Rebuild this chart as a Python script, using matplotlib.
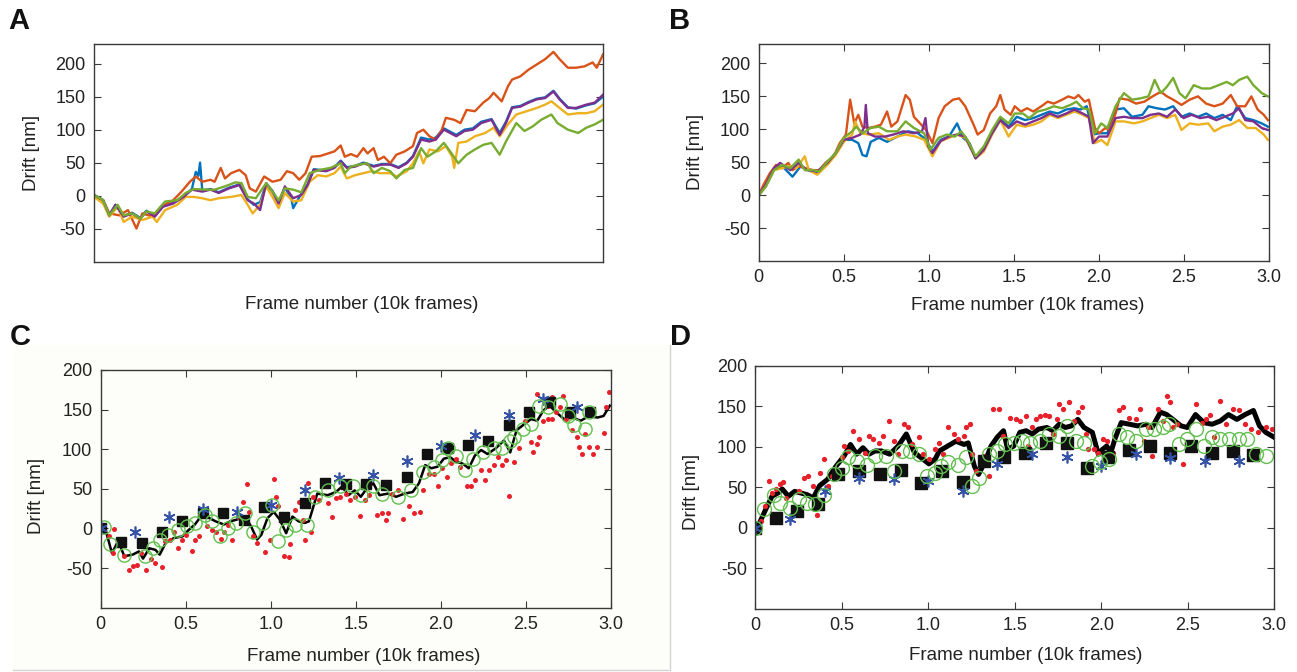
import matplotlib
matplotlib.use("Agg")
import matplotlib.pyplot as plt
from matplotlib.patches import Rectangle

plt.rcParams['font.family'] = ['Liberation Sans', 'DejaVu Sans']

# MATLAB default line colours
C_BLUE = '#0072BD'
C_RED = '#D95319'
C_YEL = '#EDB120'
C_PUR = '#7E2F8E'
C_GRN = '#77AC30'

# ---------------- panel A ----------------
a_red_x = [0.00, 0.054, 0.09, 0.15, 0.20, 0.25, 0.285, 0.346, 0.394, 0.467, 0.516, 0.565, 0.60, 0.638, 0.687,
           0.711, 0.747, 0.772, 0.808, 0.857, 0.894, 0.918, 0.954, 1.003, 1.052, 1.10, 1.137, 1.174, 1.21, 1.247,
           1.283, 1.332, 1.38, 1.417, 1.454, 1.478, 1.514, 1.551, 1.588, 1.612, 1.648, 1.673, 1.709, 1.746, 1.782,
           1.831, 1.88, 1.904, 1.941, 1.977, 2.014, 2.05, 2.074, 2.123, 2.16, 2.196, 2.245, 2.294, 2.33, 2.355,
           2.403, 2.44, 2.464, 2.513, 2.561, 2.61, 2.659, 2.708, 2.744, 2.793, 2.841, 2.89, 2.939, 2.963, 3.0]
a_red_y = [0, -7, -27, -30, -22, -50, -27, -32, -17, -7, 6, 21, 29, 21, 24,
           21, 42, 26, 34, 39, 31, 11, 6, 29, 21, 24, 37, 34, 24, 34,
           59, 60, 64, 67, 76, 59, 63, 59, 72, 64, 72, 54, 59, 49, 62,
           67, 75, 95, 100, 90, 85, 100, 118, 115, 110, 130, 128, 141, 148, 156,
           143, 166, 176, 181, 191, 199, 207, 218, 207, 194, 194, 196, 202, 194, 214]

a_pur_x = [0, 0.054, 0.09, 0.127, 0.175, 0.224, 0.273, 0.309, 0.358, 0.406, 0.467, 0.528, 0.577, 0.638, 0.687,
           0.735, 0.796, 0.857, 0.906, 0.942, 0.979, 1.015, 1.052, 1.088, 1.125, 1.174, 1.222, 1.259, 1.295, 1.368,
           1.417, 1.454, 1.49, 1.539, 1.588, 1.649, 1.697, 1.746, 1.795, 1.843, 1.88, 1.928, 1.977, 2.014, 2.062,
           2.099, 2.135, 2.184, 2.233, 2.282, 2.343, 2.391, 2.428, 2.464, 2.513, 2.561, 2.61, 2.659, 2.708, 2.744,
           2.793, 2.841, 2.902, 2.951, 3.0]
a_pur_y = [1, -7, -30, -14, -32, -27, -35, -24, -32, -17, -12, -2, 9, 6, 9,
           4, 11, 16, -7, -12, -22, 19, 6, -12, 14, -4, 1, 16, 39, 37,
           42, 52, 42, 44, 49, 44, 47, 47, 42, 49, 59, 85, 82, 85, 100,
           95, 90, 98, 100, 110, 115, 92, 110, 133, 135, 141, 146, 148, 158, 146,
           133, 133, 138, 141, 153]

a_blu_x = [0, 0.054, 0.09, 0.127, 0.175, 0.224, 0.273, 0.309, 0.358, 0.406, 0.467, 0.528, 0.577, 0.60, 0.615,
           0.625, 0.638, 0.687, 0.735, 0.796, 0.857, 0.906, 0.942, 0.979, 1.015, 1.052, 1.088, 1.125, 1.162, 1.174,
           1.222, 1.259, 1.295, 1.368, 1.417, 1.454, 1.49, 1.539, 1.588, 1.649, 1.697, 1.746, 1.795, 1.843, 1.88,
           1.928, 1.977, 2.014, 2.062, 2.099, 2.135, 2.184, 2.233, 2.282, 2.343, 2.391, 2.428, 2.464, 2.513, 2.561,
           2.61, 2.659, 2.708, 2.744, 2.793, 2.841, 2.902, 2.951, 3.0]
a_blu_y = [1, -7, -29, -14, -31, -26, -34, -23, -31, -16, -11, -1, 10, 36, 30,
           50, 8, 10, 5, 12, 17, -6, -14, -10, 18, 7, -10, 12, -3, -19,
           3, 17, 40, 38, 43, 53, 43, 45, 50, 45, 48, 48, 43, 50, 60,
           88, 85, 88, 102, 97, 92, 100, 102, 112, 116, 95, 112, 134, 136, 142,
           147, 149, 159, 147, 134, 132, 137, 140, 150]

a_yel_x = [0, 0.054, 0.09, 0.139, 0.175, 0.224, 0.285, 0.346, 0.370, 0.419, 0.491, 0.540, 0.589, 0.638, 0.687,
           0.735, 0.808, 0.869, 0.906, 0.935, 0.979, 1.015, 1.052, 1.088, 1.125, 1.174, 1.222, 1.271, 1.32, 1.368,
           1.417, 1.454, 1.49, 1.539, 1.588, 1.636, 1.685, 1.746, 1.782, 1.843, 1.88, 1.916, 1.941, 1.977, 2.026,
           2.074, 2.111, 2.123, 2.147, 2.196, 2.245, 2.306, 2.355, 2.391, 2.44, 2.489, 2.55, 2.61, 2.659, 2.696,
           2.744, 2.793, 2.854, 2.902, 2.951, 3.0]
a_yel_y = [-2, -12, -32, -17, -40, -32, -37, -32, -40, -22, -14, -2, -2, -4, -7,
           -4, -2, 1, -14, -27, -14, 14, -2, -19, 4, -9, -7, 21, 31, 29,
           34, 44, 26, 31, 34, 37, 34, 34, 29, 37, 49, 67, 49, 70, 67,
           75, 59, 42, 80, 82, 90, 95, 103, 90, 108, 123, 128, 133, 138, 143,
           133, 123, 125, 125, 128, 138]

a_grn_x = [0, 0.054, 0.09, 0.139, 0.175, 0.224, 0.273, 0.309, 0.358, 0.419, 0.491, 0.540, 0.589, 0.662, 0.711,
           0.772, 0.833, 0.869, 0.906, 0.954, 1.015, 1.052, 1.088, 1.125, 1.174, 1.222, 1.271, 1.332, 1.393, 1.454,
           1.478, 1.514, 1.563, 1.612, 1.648, 1.697, 1.746, 1.782, 1.831, 1.88, 1.928, 1.965, 2.014, 2.062, 2.099,
           2.147, 2.196, 2.245, 2.294, 2.343, 2.391, 2.428, 2.489, 2.537, 2.586, 2.635, 2.696, 2.732, 2.793, 2.854,
           2.902, 2.951, 3.0]
a_grn_y = [1, -7, -30, -14, -30, -27, -35, -24, -27, -9, -7, 4, 10, 9, 9,
           14, 20, 19, -2, -4, 19, 6, -7, 11, 9, 5, 34, 39, 42, 49,
           34, 44, 47, 49, 34, 42, 37, 26, 39, 42, 72, 59, 67, 80, 67,
           49, 62, 70, 77, 80, 62, 82, 110, 98, 105, 115, 123, 110, 100, 95,
           103, 108, 115]

# ---------------- panel B ----------------
b_red_x = [0, 0.029, 0.065, 0.102, 0.138, 0.174, 0.199, 0.235, 0.271, 0.320, 0.356, 0.392, 0.441, 0.477, 0.513,
           0.538, 0.562, 0.586, 0.610, 0.646, 0.683, 0.719, 0.755, 0.780, 0.816, 0.840, 0.864, 0.889, 0.913, 0.949,
           0.985, 1.022, 1.058, 1.094, 1.143, 1.179, 1.215, 1.264, 1.288, 1.324, 1.361, 1.397, 1.421, 1.446, 1.482,
           1.506, 1.542, 1.579, 1.615, 1.663, 1.700, 1.736, 1.785, 1.821, 1.857, 1.881, 1.918, 1.942, 1.978, 2.002,
           2.039, 2.063, 2.099, 2.123, 2.172, 2.22, 2.269, 2.317, 2.365, 2.402, 2.438, 2.487, 2.535, 2.584, 2.632,
           2.68, 2.729, 2.777, 2.814, 2.862, 2.898, 2.935, 2.971, 2.995]
b_red_y = [0, 16, 33, 46, 41, 49, 38, 44, 41, 38, 38, 49, 59, 79, 92,
           145, 109, 122, 104, 102, 104, 107, 127, 104, 112, 132, 152, 145, 119, 109,
           99, 79, 117, 135, 145, 147, 135, 107, 92, 99, 124, 135, 152, 130, 122,
           135, 127, 132, 127, 135, 142, 139, 145, 150, 147, 152, 142, 145, 102, 94,
           102, 99, 124, 147, 145, 139, 142, 150, 157, 150, 145, 137, 145, 150, 139,
           135, 139, 152, 135, 135, 150, 130, 122, 114]

b_grn_x = [0, 0.041, 0.090, 0.138, 0.186, 0.235, 0.271, 0.320, 0.356, 0.404, 0.453, 0.501, 0.550, 0.574, 0.610,
           0.659, 0.707, 0.755, 0.816, 0.864, 0.913, 0.973, 1.010, 1.058, 1.106, 1.155, 1.191, 1.228, 1.276, 1.324,
           1.373, 1.421, 1.470, 1.506, 1.554, 1.591, 1.639, 1.688, 1.736, 1.785, 1.833, 1.869, 1.906, 1.942, 1.978,
           2.015, 2.051, 2.099, 2.148, 2.196, 2.245, 2.293, 2.329, 2.366, 2.402, 2.438, 2.475, 2.511, 2.559, 2.608,
           2.656, 2.705, 2.753, 2.789, 2.826, 2.874, 2.910, 2.959, 2.995]
b_grn_y = [0, 13, 38, 46, 41, 54, 38, 38, 36, 51, 64, 87, 97, 104, 94,
           102, 104, 97, 97, 112, 102, 94, 69, 87, 92, 89, 97, 84, 59, 74,
           99, 119, 109, 124, 124, 117, 127, 130, 135, 132, 137, 142, 132, 130, 94,
           109, 102, 135, 155, 145, 147, 150, 175, 155, 165, 178, 155, 147, 167, 162,
           162, 167, 172, 167, 175, 180, 167, 155, 150]

b_blu_x = [0, 0.041, 0.090, 0.138, 0.199, 0.247, 0.296, 0.344, 0.404, 0.453, 0.501, 0.550, 0.586, 0.610, 0.634,
           0.659, 0.707, 0.755, 0.816, 0.877, 0.937, 0.985, 1.022, 1.070, 1.119, 1.167, 1.203, 1.240, 1.276, 1.324,
           1.373, 1.421, 1.470, 1.518, 1.567, 1.615, 1.663, 1.712, 1.760, 1.809, 1.857, 1.893, 1.930, 1.966, 2.002,
           2.051, 2.099, 2.148, 2.196, 2.257, 2.293, 2.341, 2.390, 2.438, 2.487, 2.535, 2.584, 2.632, 2.680, 2.729,
           2.777, 2.814, 2.862, 2.910, 2.959, 2.995]
b_blu_y = [0, 13, 38, 44, 28, 44, 38, 33, 49, 64, 84, 84, 79, 61, 59,
           81, 87, 81, 89, 97, 94, 84, 66, 84, 89, 109, 87, 79, 56, 69,
           94, 116, 104, 119, 114, 117, 122, 127, 124, 130, 132, 130, 135, 92, 94,
           94, 130, 132, 119, 122, 135, 132, 130, 135, 119, 124, 119, 124, 117, 122,
           114, 135, 117, 114, 109, 104]

b_pur_x = [0, 0.041, 0.090, 0.126, 0.186, 0.235, 0.283, 0.344, 0.404, 0.453, 0.501, 0.550, 0.598, 0.622, 0.630,
           0.642, 0.683, 0.743, 0.792, 0.852, 0.913, 0.961, 0.981, 0.998, 1.022, 1.070, 1.119, 1.167, 1.215, 1.276,
           1.324, 1.373, 1.421, 1.470, 1.518, 1.567, 1.615, 1.663, 1.712, 1.760, 1.809, 1.857, 1.906, 1.942, 1.966,
           2.002, 2.051, 2.099, 2.148, 2.196, 2.257, 2.305, 2.354, 2.402, 2.450, 2.499, 2.547, 2.596, 2.644, 2.692,
           2.741, 2.789, 2.826, 2.862, 2.910, 2.959, 2.995]
b_pur_y = [0, 16, 41, 49, 38, 49, 38, 36, 49, 64, 84, 87, 92, 104, 137,
           94, 89, 89, 92, 97, 94, 97, 117, 74, 64, 82, 89, 92, 89, 56,
           69, 94, 114, 102, 112, 107, 112, 117, 124, 119, 124, 130, 124, 119, 79,
           89, 89, 117, 119, 117, 117, 122, 124, 119, 130, 117, 122, 117, 119, 114,
           119, 124, 132, 114, 112, 102, 99]

b_yel_x = [0, 0.041, 0.090, 0.138, 0.186, 0.223, 0.271, 0.295, 0.344, 0.404, 0.453, 0.501, 0.550, 0.567, 0.598,
           0.646, 0.707, 0.768, 0.816, 0.864, 0.925, 0.973, 1.022, 1.070, 1.119, 1.167, 1.215, 1.276, 1.324, 1.373,
           1.421, 1.470, 1.518, 1.567, 1.615, 1.663, 1.712, 1.760, 1.809, 1.857, 1.906, 1.942, 1.978, 2.015, 2.051,
           2.099, 2.148, 2.208, 2.257, 2.305, 2.354, 2.402, 2.450, 2.487, 2.535, 2.584, 2.644, 2.680, 2.729, 2.777,
           2.826, 2.874, 2.923, 2.971, 2.995]
b_yel_y = [0, 13, 38, 41, 44, 41, 59, 38, 31, 46, 61, 81, 92, 112, 94,
           92, 94, 84, 89, 92, 89, 84, 59, 82, 87, 92, 87, 56, 66, 92,
           114, 89, 107, 104, 107, 112, 122, 117, 122, 127, 122, 117, 79, 84, 76,
           112, 112, 109, 112, 117, 122, 117, 122, 99, 109, 107, 109, 97, 104, 107,
           114, 102, 102, 92, 84]

# ---------------- panel C ----------------
c_line_x = [0, 0.029, 0.066, 0.103, 0.139, 0.188, 0.225, 0.249, 0.286, 0.322, 0.347, 0.383, 0.432, 0.481, 0.517,
            0.554, 0.603, 0.64, 0.676, 0.725, 0.762, 0.798, 0.847, 0.884, 0.92, 0.945, 0.981, 1.018, 1.054, 1.091,
            1.128, 1.164, 1.201, 1.225, 1.274, 1.335, 1.384, 1.42, 1.457, 1.494, 1.53, 1.567, 1.604, 1.64, 1.689,
            1.738, 1.787, 1.835, 1.872, 1.909, 1.945, 1.982, 2.018, 2.055, 2.092, 2.128, 2.165, 2.201, 2.238, 2.275,
            2.323, 2.372, 2.409, 2.446, 2.482, 2.531, 2.568, 2.604, 2.641, 2.677, 2.726, 2.775, 2.824, 2.873, 2.922,
            2.958, 2.995]
c_line_y = [0, -2, -31, -16, -35, -33, -29, -38, -25, -27, -33, -18, -12, -10, -2,
            5, 19, 13, 9, 5, 9, 11, 15, 3, -14, -8, 13, 21, 11, -6,
            15, 9, 7, 9, 44, 42, 46, 53, 42, 48, 40, 51, 57, 42, 44,
            40, 44, 46, 57, 80, 76, 78, 88, 90, 84, 82, 76, 92, 99, 94,
            101, 111, 96, 124, 130, 138, 136, 149, 155, 147, 138, 140, 136, 142, 140,
            142, 155]

sq_x = [0, 0.12, 0.24, 0.36, 0.48, 0.60, 0.72, 0.84, 0.96, 1.08, 1.20, 1.32, 1.44,
        1.56, 1.68, 1.80, 1.92, 2.04, 2.16, 2.28, 2.40, 2.52, 2.64, 2.76, 2.88]
c_sq_y = [1, -17, -18, -5, 10, 20, 20, 11, 27, 15, 32, 58, 56, 56, 55, 65, 94, 101, 105, 110, 131, 147, 160, 147, 147]

star_x = [0, 0.2, 0.4, 0.6, 0.8, 1.0, 1.2, 1.4, 1.6, 1.8, 2.0, 2.2, 2.4, 2.6, 2.8]
c_star_y = [1, -5, 15, 25, 21, 30, 48, 64, 68, 85, 104, 118, 143, 164, 153]

c_circ_x = [0.017, 0.054, 0.139, 0.261, 0.31, 0.347, 0.395, 0.456, 0.505, 0.554, 0.615, 0.652, 0.7, 0.749, 0.798,
            0.847, 0.896, 0.957, 1.006, 1.042, 1.091, 1.14, 1.213, 1.262, 1.335, 1.408, 1.482, 1.53, 1.604, 1.652,
            1.75, 1.823, 1.897, 1.958, 2.006, 2.043, 2.092, 2.141, 2.189, 2.25, 2.311, 2.36, 2.409, 2.433, 2.482,
            2.531, 2.58, 2.629, 2.702, 2.751, 2.787, 2.848, 2.873]
c_circ_y = [2, -20, -33, -35, -25, -14, -8, -2, 3, 7, 17, 9, -10, 0, 7,
            19, -4, 7, 30, -16, -2, 5, 5, 40, 48, 53, 53, 42, 53, 44,
            40, 48, 71, 78, 86, 101, 92, 74, 88, 96, 101, 101, 111, 115, 126,
            132, 155, 153, 157, 142, 130, 126, 147]

c_dot_x = [0.078, 0.046, 0.071, 0.107, 0.139, 0.164, 0.188, 0.212, 0.237, 0.266, 0.293, 0.322, 0.359, 0.378, 0.408,
           0.432, 0.456, 0.481, 0.5, 0.535, 0.554, 0.578, 0.627, 0.652, 0.676, 0.705, 0.725, 0.749, 0.774, 0.81,
           0.835, 0.859, 0.871, 0.896, 0.92, 0.969, 0.993, 1.018, 1.03, 1.042, 1.079, 1.108, 1.115, 1.14, 1.164,
           1.189, 1.201, 1.218, 1.237, 1.25, 1.286, 1.335, 1.36, 1.384, 1.408, 1.445, 1.469, 1.494, 1.526, 1.555,
           1.579, 1.628, 1.652, 1.677, 1.689, 1.713, 1.75, 1.779, 1.811, 1.84, 1.879, 1.896, 1.933, 1.958, 1.982,
           2.006, 2.038, 2.063, 2.092, 2.116, 2.153, 2.177, 2.201, 2.238, 2.263, 2.287, 2.311, 2.336, 2.36, 2.385,
           2.402, 2.433, 2.458, 2.494, 2.531, 2.543, 2.568, 2.58, 2.604, 2.629, 2.653, 2.677, 2.702, 2.721, 2.738,
           2.775, 2.8, 2.812, 2.829, 2.848, 2.873, 2.897, 2.922, 2.958, 2.975, 2.99, 2.565, 2.653, 2.634]
c_dot_y = [-1, -10, -31, -14, -35, -52, -48, -46, -31, -53, -39, -43, -49, -16, -14,
           -4, -25, -14, -8, -29, -14, -10, 3, -2, -4, -13, -4, 5, -15, 15,
           34, 56, 21, -10, -18, -30, -14, 62, 40, 28, -35, -36, -20, 23, 34,
           11, -14, 58, -4, 40, 36, 32, 15, 38, 40, 44, 36, 40, 16, 36,
           42, 17, 19, 11, 19, 44, 48, 12, 28, 20, 21, 48, 69, 69, 53,
           76, 65, 82, 88, 78, 53, 53, 61, 74, 61, 74, 80, 90, 80, 86,
           41, 84, 101, 136, 109, 97, 107, 115, 136, 138, 138, 147, 153, 167, 138,
           124, 115, 103, 94, 119, 103, 94, 103, 120, 153, 172, 170, 166, 155]

# ---------------- panel D ----------------
d_line_x = [0, 0.024, 0.06, 0.096, 0.131, 0.155, 0.191, 0.227, 0.263, 0.299, 0.335, 0.371, 0.418, 0.466, 0.514,
            0.55, 0.586, 0.622, 0.657, 0.693, 0.729, 0.777, 0.825, 0.873, 0.92, 0.968, 1.004, 1.04, 1.064, 1.112,
            1.16, 1.207, 1.231, 1.267, 1.291, 1.327, 1.363, 1.399, 1.435, 1.459, 1.494, 1.53, 1.566, 1.602, 1.638,
            1.686, 1.721, 1.757, 1.793, 1.829, 1.865, 1.901, 1.949, 1.984, 2.008, 2.032, 2.056, 2.08, 2.116, 2.164,
            2.211, 2.259, 2.295, 2.343, 2.379, 2.415, 2.462, 2.498, 2.546, 2.594, 2.642, 2.689, 2.737, 2.785, 2.833,
            2.881, 2.916, 2.952, 3.0]
d_line_y = [0, 6, 23, 39, 43, 48, 39, 45, 43, 41, 37, 52, 60, 76, 89,
            103, 91, 99, 91, 95, 95, 91, 101, 116, 93, 85, 79, 85, 95, 101,
            107, 103, 105, 76, 66, 81, 101, 112, 120, 97, 101, 118, 120, 116, 122,
            124, 120, 128, 124, 126, 134, 124, 118, 91, 97, 101, 93, 110, 130, 128,
            126, 128, 124, 143, 140, 134, 126, 124, 140, 130, 128, 132, 140, 134, 140,
            145, 126, 118, 112]

d_sq_y = [0, 12, 21, 29, 66, 70, 67, 72, 55, 70, 57, 82, 87, 93, 105, 105, 74, 87, 96, 101, 92, 101, 93, 95, 90]
d_star_y = [0, 11, 45, 61, 60, 58, 45, 79, 91, 87, 77, 91, 86, 82, 82]

d_circ_x = [0, 0.048, 0.108, 0.143, 0.203, 0.251, 0.299, 0.347, 0.394, 0.454, 0.502, 0.538, 0.586, 0.645, 0.693,
            0.753, 0.801, 0.849, 0.896, 0.944, 0.992, 1.04, 1.076, 1.112, 1.171, 1.219, 1.255, 1.291, 1.351, 1.399,
            1.446, 1.494, 1.542, 1.59, 1.649, 1.697, 1.757, 1.805, 1.853, 1.901, 1.948, 1.996, 2.044, 2.104, 2.152,
            2.199, 2.259, 2.307, 2.355, 2.391, 2.45, 2.498, 2.546, 2.594, 2.642, 2.689, 2.737, 2.797, 2.845, 2.893,
            2.952]
d_circ_y = [0, 23, 41, 31, 25, 35, 31, 29, 41, 66, 74, 87, 83, 78, 89,
            89, 70, 95, 95, 91, 64, 68, 76, 81, 78, 87, 52, 62, 91, 95,
            103, 105, 107, 105, 107, 116, 114, 126, 107, 105, 76, 81, 85, 116, 112,
            107, 122, 122, 124, 128, 103, 110, 122, 101, 112, 110, 110, 110, 110, 91,
            89]

d_dot_x = [0, 0.012, 0.031, 0.055, 0.079, 0.096, 0.12, 0.143, 0.16, 0.179, 0.215, 0.251, 0.28, 0.304, 0.335,
           0.359, 0.371, 0.394, 0.418, 0.442, 0.471, 0.502, 0.514, 0.538, 0.562, 0.598, 0.634, 0.657, 0.681, 0.717,
           0.741, 0.772, 0.801, 0.825, 0.861, 0.885, 0.908, 0.944, 0.968, 1.004, 1.04, 1.064, 1.088, 1.116, 1.147,
           1.171, 1.207, 1.219, 1.243, 1.255, 1.279, 1.315, 1.351, 1.375, 1.41, 1.434, 1.47, 1.506, 1.53, 1.566,
           1.578, 1.602, 1.626, 1.649, 1.673, 1.697, 1.721, 1.745, 1.757, 1.781, 1.817, 1.841, 1.865, 1.889, 1.913,
           1.924, 1.96, 1.984, 2.008, 2.032, 2.068, 2.104, 2.128, 2.164, 2.199, 2.223, 2.247, 2.271, 2.295, 2.331,
           2.355, 2.379, 2.398, 2.415, 2.438, 2.474, 2.51, 2.546, 2.582, 2.606, 2.63, 2.654, 2.689, 2.725, 2.761,
           2.797, 2.833, 2.869, 2.905, 2.952, 2.988]
d_dot_y = [2, -2, 8, 27, 58, 43, 48, 54, 57, 37, 23, 45, 61, 64, 52,
           16, 68, 85, 52, 64, 70, 87, 101, 95, 120, 110, 93, 114, 110, 105,
           114, 132, 107, 91, 128, 124, 103, 112, 91, 85, 97, 105, 91, 125, 116,
           110, 114, 124, 128, 91, 70, 89, 64, 147, 147, 114, 136, 134, 132, 138,
           101, 124, 134, 138, 140, 138, 116, 134, 153, 147, 155, 132, 143, 149, 116,
           97, 97, 93, 110, 107, 93, 145, 149, 136, 134, 147, 107, 124, 89, 147,
           132, 163, 155, 124, 128, 79, 103, 153, 130, 134, 140, 112, 157, 128, 147,
           145, 128, 122, 118, 124, 122]

x_ticks = [0, 0.5, 1.0, 1.5, 2.0, 2.5, 3.0]
x_tick_labels = ['0', '0.5', '1.0', '1.5', '2.0', '2.5', '3.0']
y_ticks = [-50, 0, 50, 100, 150, 200]
y_tick_labels = ['-50', '0', '50', '100', '150', '200']

W, H = 1297, 672
fig = plt.figure(figsize=(W / 100, H / 100), dpi=100)
fig.patch.set_facecolor('white')

CREAM = '#fdfdf9'
# panel C sits on a slightly tinted background in the original figure
bg = fig.add_axes([0, 0, 1, 1], zorder=-10)
bg.set_xlim(0, W)
bg.set_ylim(H, 0)
bg.axis('off')
bg.add_patch(Rectangle((13, 345), 657, 325, facecolor=CREAM, edgecolor='none'))
bg.plot([13, 670, 670], [670, 670, 345], color='#d4d4d4', lw=1.0)


def make_axes(rect, xticks_on=True, face='white'):
    ax = fig.add_axes(rect)
    ax.set_facecolor(face)
    ax.set_xlim(0, 3.0)
    for s in ax.spines.values():
        s.set_color('#3a3a3a')
        s.set_linewidth(1.0)
    ax.tick_params(direction='in', length=5, width=0.8, color='#3a3a3a', top=True, right=True,
                   labelsize=13, labelcolor='#222222', pad=6)
    if xticks_on:
        ax.set_xticks(x_ticks)
        ax.set_xticklabels(x_tick_labels)
    else:
        ax.set_xticks([])
    ax.set_yticks(y_ticks)
    ax.set_yticklabels(y_tick_labels)
    return ax


def labels(ax, xl, yl):
    ax.set_xlabel('Frame number (10k frames)', fontsize=13.5, color='#222222')
    ax.set_ylabel('Drift [nm]', fontsize=13.5, color='#222222')
    ax.xaxis.set_label_coords(*xl)
    ax.xaxis.label.set_va('center')
    ax.yaxis.set_label_coords(*yl)
    ax.yaxis.label.set_va('center')


lw_trace = 1.7

# A
axA = make_axes([94 / W, 1 - 261.5 / H, 509 / W, 217.5 / H], xticks_on=False)
axA.set_ylim(-100, 230)
axA.plot(a_blu_x, a_blu_y, color=C_BLUE, lw=lw_trace)
axA.plot(a_red_x, a_red_y, color=C_RED, lw=lw_trace)
axA.plot(a_yel_x, a_yel_y, color=C_YEL, lw=lw_trace)
axA.plot(a_pur_x, a_pur_y, color=C_PUR, lw=lw_trace)
axA.plot(a_grn_x, a_grn_y, color=C_GRN, lw=lw_trace)
labels(axA, (0.525, -0.197), (-0.122, 0.50))

# B
axB = make_axes([758.7 / W, 1 - 261 / H, 510 / W, 217.3 / H])
axB.set_ylim(-100, 230)
axB.plot(b_blu_x, b_blu_y, color=C_BLUE, lw=lw_trace)
axB.plot(b_red_x, b_red_y, color=C_RED, lw=lw_trace)
axB.plot(b_yel_x, b_yel_y, color=C_YEL, lw=lw_trace)
axB.plot(b_pur_x, b_pur_y, color=C_PUR, lw=lw_trace)
axB.plot(b_grn_x, b_grn_y, color=C_GRN, lw=lw_trace)
labels(axB, (0.528, -0.207), (-0.123, 0.50))

STAR = (6, 2, 0)
GREEN_C = '#62bf4f'
RED_D = '#e8202a'
BLUE_S = '#3453a6'

# C
axC = make_axes([100.7 / W, 1 - 607.7 / H, 510 / W, 237.7 / H], face=CREAM)
axC.set_ylim(-100, 200)
axC.plot(c_line_x, c_line_y, color='black', lw=1.8)
axC.plot(c_dot_x, c_dot_y, 'o', color=RED_D, ms=3.6, mew=0)
axC.plot(sq_x, c_sq_y, 's', color='#111111', ms=7.5)
axC.plot(star_x, c_star_y, ls='none', marker=STAR, ms=8.5, mew=1.2, color=BLUE_S)
axC.plot(c_circ_x, c_circ_y, 'o', mfc='none', mec=GREEN_C, mew=1.0, ms=9.5)
labels(axC, (0.515, -0.206), (-0.126, 0.47))

# D
axD = make_axes([755.4 / W, 1 - 608.7 / H, 518.6 / W, 242.7 / H])
axD.set_ylim(-100, 200)
axD.plot(d_line_x, d_line_y, color='black', lw=3.6)
axD.plot(d_dot_x, d_dot_y, 'o', color=RED_D, ms=3.8, mew=0)
axD.plot(sq_x, d_sq_y, 's', color='#111111', ms=8)
axD.plot(star_x, d_star_y, ls='none', marker=STAR, ms=8.5, mew=1.2, color=BLUE_S)
axD.plot(d_circ_x, d_circ_y, 'o', mfc='none', mec=GREEN_C, mew=1.0, ms=10)
labels(axD, (0.522, -0.191), (-0.124, 0.482))

# panel letters
for txt, px, py in [('A', 19, 21), ('B', 680, 21), ('C', 20, 337), ('D', 681, 337)]:
    fig.text(px / W, 1 - py / H, txt, fontsize=21, fontweight='bold', ha='center', va='center',
             color='#111111')

fig.savefig('out.png', dpi=100)
